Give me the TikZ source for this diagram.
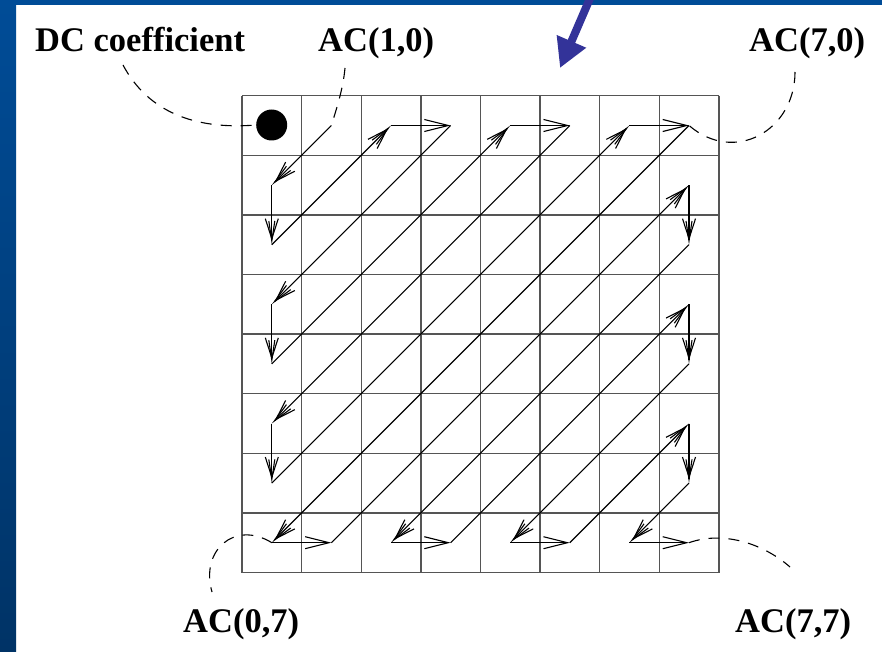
\documentclass[tikz,border=0pt]{standalone}
\usepackage{fontspec}
\setmainfont{Liberation Serif}
\usetikzlibrary{arrows.meta}
\definecolor{frameblue}{RGB}{0,76,151}
\definecolor{framedark}{RGB}{0,51,102}
\definecolor{pointer}{RGB}{51,51,153}
\definecolor{gridgray}{RGB}{85,85,85}

\begin{document}
\begin{tikzpicture}[x=1pt,y=-1pt,
  labeltext/.style={anchor=base west,inner sep=0pt,font=\fontsize{34.5}{40}\selectfont\bfseries},
  cellline/.style={draw=gridgray,line width=1.4pt},
  scanline/.style={line width=1.1pt,-{Straight Barb[length=20pt,width=13pt,sep=-20pt]Straight Barb[length=20pt,width=6pt]}},
  sideline/.style={line width=1.1pt,-{Straight Barb[length=24pt,width=12pt]}},
  callout/.style={dash pattern=on 11pt off 9pt,line width=1.1pt},
]
\useasboundingbox (0,0) rectangle (882,652);
\fill[white] (0,0) rectangle (882,652);

% frame
\fill[frameblue] (0,0) rectangle (882,5);
\shade[top color=frameblue,bottom color=framedark] (0,0) rectangle (16,652);

% 8x8 block grid
\foreach \k in {0,...,8} {
  \draw[cellline] ({242+59.6*\k},95.7) -- ({242+59.6*\k},572.5);
  \draw[cellline] (242,{95.7+59.6*\k}) -- (718.8,{95.7+59.6*\k});
}

% cell centres: c<column><row>
\foreach \i in {0,...,7}
  \foreach \j in {0,...,7}
    \coordinate (c\i\j) at ({271.8+59.6*\i},{125.5+59.6*\j});

% DC coefficient
\node[circle,fill=black,minimum size=31pt,inner sep=0pt] (dcball) at (271.7,125) {};

% zigzag scan: diagonals
\foreach \a/\b in {10/01,02/20,30/03,04/40,50/05,06/60,70/07,17/71,72/27,37/73,74/47,57/75,76/67}
  \draw[scanline] (c\a) -- (c\b);
% vertical steps
\foreach \a/\b in {01/02,03/04,05/06,71/72,73/74,75/76}
  \draw[scanline] (c\a) -- (c\b);
% horizontal steps
\foreach \a/\b in {20/30,40/50,60/70,07/17,27/37,47/57,67/77}
  \draw[sideline] (c\a) -- (c\b);

% labels
\node[labeltext] (dc) at (35,52) {DC coefficient};
\node[labeltext] (ac10) at (318,52) {AC(1,0)};
\node[labeltext] (ac70) at (749,52) {AC(7,0)};
\node[labeltext] (ac07) at (183,632) {AC(0,7)};
\node[labeltext] (ac77) at (735,632) {AC(7,7)};

% callout curves
\coordinate (dcs) at (123,65);
\coordinate (a10s) at (345,68);
\coordinate (a70s) at (795,72);
\coordinate (a07e) at (212,592);
\coordinate (a77e) at (790,567);
\draw[callout] (dcs) .. controls (148,112) and (195,130) .. (dcball.west);
\draw[callout] (a10s) .. controls (343,90) and (336,110) .. (c10);
\draw[callout] (a70s) .. controls (795,130) and (735,165) .. (c70);
\draw[callout] (c07) .. controls (235,520) and (200,550) .. (a07e);
\draw[callout] (c77) .. controls (725,530) and (765,545) .. (a77e);

% pointer arrow
\coordinate (ptail) at (591,-4);
\coordinate (phead) at (560,68);
\draw[pointer,line width=8pt,-{Triangle[length=29pt,width=30pt]}] (ptail) -- (phead);
\end{tikzpicture}
\end{document}
